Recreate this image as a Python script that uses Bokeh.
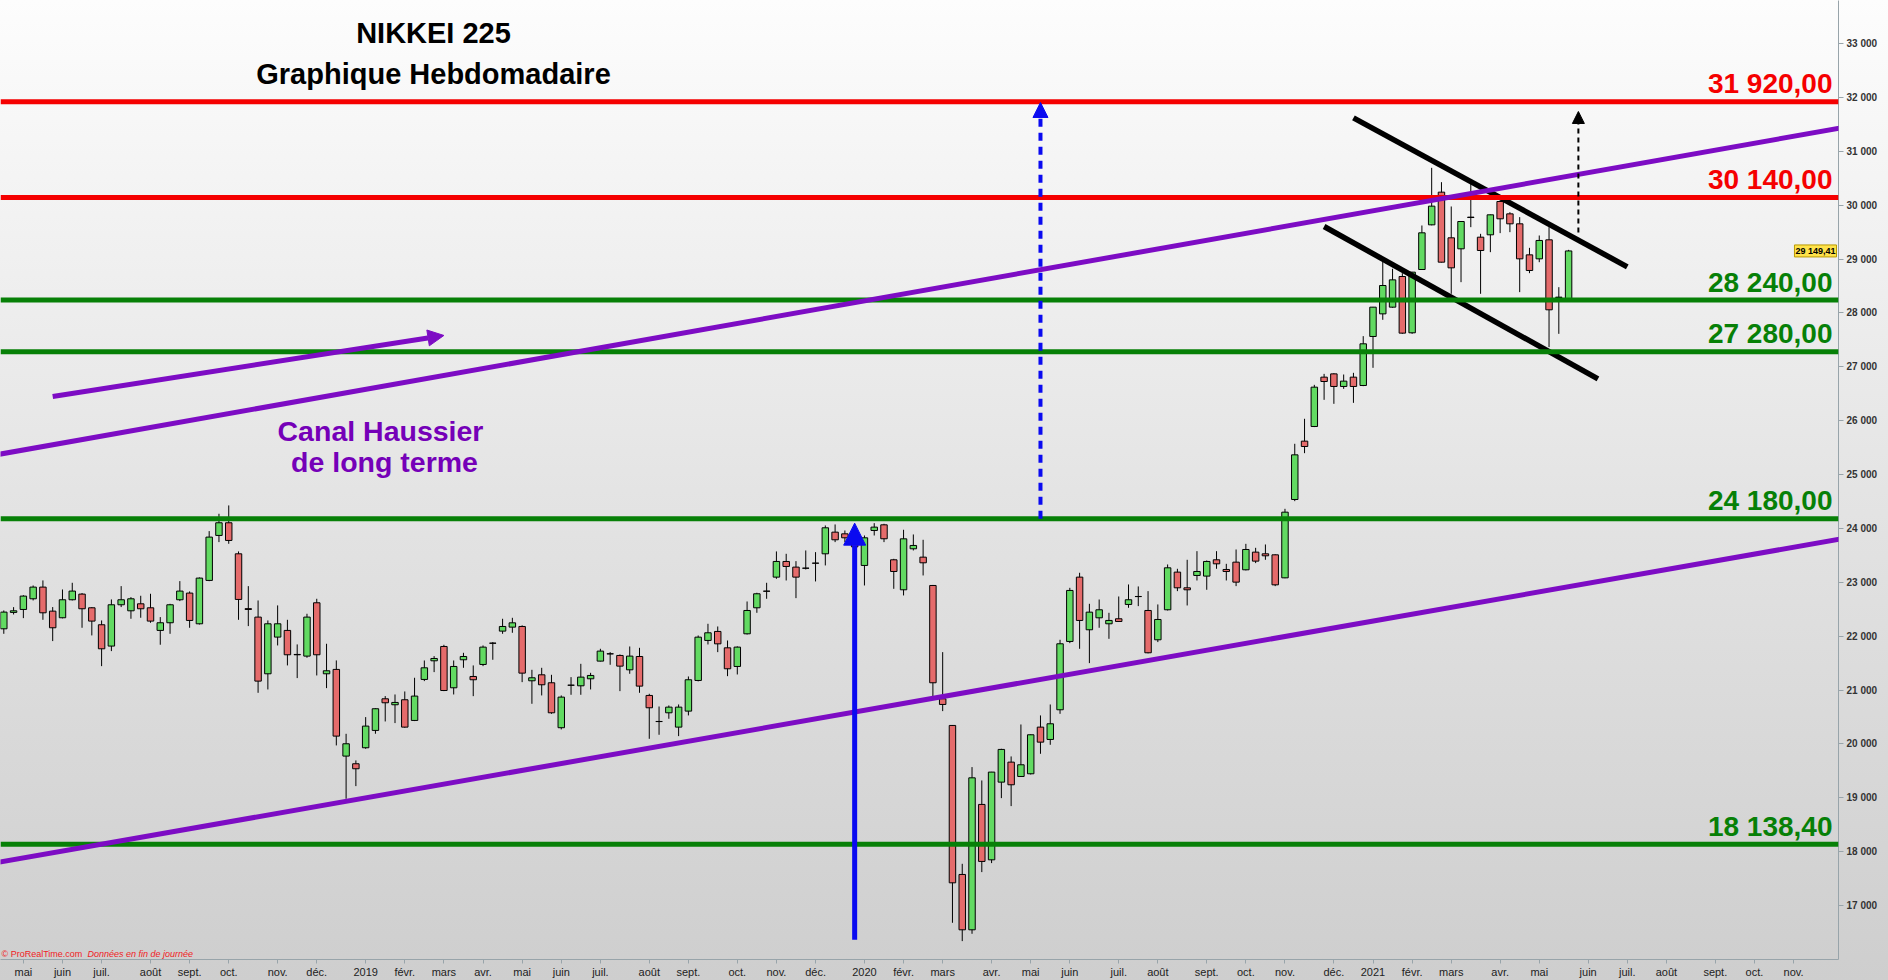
import pandas as pd
from bokeh.plotting import figure
from bokeh.models import (Range1d, FixedTicker, Span, Slope, Label, Arrow,
                          NormalHead, ColumnDataSource)
from bokeh.embed import file_html
from bokeh.resources import INLINE

# ---------------- data (weekly OHLC, NIKKEI 225) ----------------
opens = [22136, 22440, 22495, 22693, 22910, 22464, 22341, 22675, 22780, 22526,
         22211, 21815, 22582, 22470, 22600, 22526, 22106, 22248, 22675, 22799,
         22229, 23034, 23869, 24104, 23528, 22510, 22353, 21301, 21982, 22106,
         21660, 21629, 22619, 21301, 21382, 19773, 19631, 19928, 20250, 20837,
         20726, 20819, 20435, 21196, 21542, 21808, 21041, 21561, 21251, 21474,
         21870, 22093, 22167, 22179, 21171, 21282, 21134, 20300, 21090, 21078,
         21208, 21536, 21672, 21641, 21375, 21622, 20899, 20416, 20577, 20311,
         20608, 21177, 21920, 22087, 21783, 21437, 22043, 22526, 22835, 23095,
         23386, 23281, 23262, 23355, 23528, 23930, 23899, 23770, 23312, 23961,
         24066, 23417, 22860, 23621, 23466, 22940, 20837, 20342, 17576, 16549,
         18876, 17848, 19290, 19661, 19395, 19445, 20311, 20082, 20633, 21901,
         23095, 22118, 22340, 22229, 22322, 22588, 22736, 22476, 21932, 22489,
         23188, 22897, 23126, 23114, 23417, 23237, 23373, 23231, 23559, 23528,
         23509, 23082, 24536, 25619, 25891, 26807, 26868, 26634, 26807, 26652,
         27562, 27982, 28106, 28675, 27630, 28805, 29634, 30241, 29393, 29189,
         29777, 29405, 29449, 30067, 29838, 29653, 29077, 29003, 29356, 28292,
         28230]
highs = [22477, 22538, 22760, 22940, 23034, 22539, 22866, 22990, 22800, 22539,
         22291, 22681, 22928, 22724, 22749, 22786, 22353, 22600, 23021, 22830,
         23090, 23949, 24271, 24426, 23572, 22928, 22662, 22291, 22570, 22303,
         21846, 22415, 22693, 21858, 21549, 20187, 19693, 20497, 20660, 20887,
         20917, 20973, 21227, 21548, 21629, 21839, 21548, 21690, 21456, 21827,
         21889, 22322, 22340, 22200, 21375, 21412, 21282, 20899, 21239, 21486,
         21319, 21765, 21703, 21660, 21808, 21783, 20930, 20694, 20713, 20732,
         21251, 22012, 22229, 22179, 21919, 21810, 22643, 22805, 22990, 23572,
         23528, 23392, 23590, 23559, 24054, 24073, 23961, 23800, 23868, 24097,
         24085, 23435, 23974, 23887, 23788, 22950, 21703, 20350, 17774, 19569,
         19321, 19480, 19909, 19767, 20360, 20175, 20528, 20731, 21932, 22897,
         23176, 22600, 22680, 22433, 22736, 22959, 22922, 22835, 22588, 23330,
         23250, 23417, 23577, 23404, 23577, 23342, 23608, 23713, 23639, 23701,
         23520, 24363, 25570, 26034, 26664, 26868, 26880, 26856, 26887, 27568,
         28110, 28954, 28818, 28737, 28760, 29622, 30692, 30426, 29975, 29700,
         30426, 29467, 29825, 30070, 29869, 29777, 29207, 29436, 29591, 28477,
         29170]
lows = [22043, 22402, 22334, 22662, 22303, 21908, 22330, 22662, 22155, 22013,
        21443, 21722, 22539, 22322, 22341, 22248, 21840, 22043, 22650, 22155,
        22215, 23020, 23745, 23714, 22303, 22186, 20948, 21010, 21827, 21456,
        21221, 21598, 21270, 21035, 19971, 18981, 19216, 19909, 20188, 20416,
        20386, 20299, 20423, 21165, 21332, 20979, 20917, 21412, 20886, 21443,
        21561, 22043, 22062, 21146, 20744, 20899, 20558, 20268, 20911, 20911,
        21010, 21530, 21468, 20979, 21301, 20948, 20094, 20169, 20466, 20144,
        20528, 21160, 21845, 21703, 21257, 21288, 22030, 22433, 22693, 23064,
        23033, 22705, 23237, 23015, 23312, 23745, 23745, 23640, 22940, 23868,
        23745, 22878, 22755, 23590, 23126, 20868, 20608, 16679, 16339, 16475,
        17620, 17787, 18993, 18845, 19390, 19432, 19816, 19983, 20558, 21870,
        21765, 21499, 22155, 21950, 22272, 22526, 22557, 21680, 21889, 22476,
        22835, 22569, 23033, 22860, 23250, 23033, 22928, 23220, 23355, 23417,
        22928, 23075, 24505, 25396, 25880, 26386, 26312, 26590, 26330, 26640,
        26980, 27871, 28094, 27611, 27611, 28800, 29625, 28935, 28354, 28570,
        29591, 28354, 29127, 29480, 29498, 28385, 28737, 28941, 27364, 27611,
        28225]
closes = [22446, 22470, 22743, 22910, 22433, 22155, 22675, 22836, 22508, 22279,
          21765, 22582, 22675, 22693, 22508, 22279, 22248, 22582, 22836, 22291,
          23077, 23838, 24104, 23776, 22681, 22495, 21165, 22229, 22229, 21654,
          21654, 22353, 21654, 21357, 20144, 20002, 19538, 20330, 20652, 20763,
          20769, 20311, 20887, 21412, 21585, 20991, 21437, 21622, 21190, 21796,
          21868, 22179, 22247, 21313, 21227, 21097, 20577, 20868, 21088, 21239,
          21270, 21722, 21670, 21443, 21629, 21072, 20670, 20414, 20682, 20682,
          21190, 21981, 22062, 21857, 21394, 21796, 22476, 22786, 22833, 23386,
          23293, 23095, 23260, 23353, 24011, 23788, 23825, 23657, 23825, 24023,
          23807, 23200, 23806, 23683, 23361, 21134, 20732, 17421, 16549, 19370,
          17818, 19476, 19897, 19241, 19612, 20169, 20032, 20373, 21858, 22848,
          22291, 22445, 22489, 22291, 22272, 22675, 22734, 21691, 22309, 23268,
          22897, 22860, 23200, 23386, 23342, 23200, 23002, 23608, 23392, 23491,
          22952, 24301, 25365, 25520, 26621, 26726, 26634, 26733, 26634, 27426,
          28106, 28508, 28613, 27624, 28756, 29486, 29981, 28941, 28836, 29696,
          29770, 29158, 29820, 29746, 29653, 29003, 28787, 29344, 28057, 28285,
          29149.41]

# weekly bars start on these Mondays (no trading during Golden Week 2019)
weeks = pd.date_range("2018-04-23", "2021-05-24", freq="W-MON")
weeks = weeks[weeks != pd.Timestamp("2019-04-29")]

month_names = ["", "févr.", "mars", "avr.", "mai", "juin", "juil.", "août",
               "sept.", "oct.", "nov.", "déc."]
axis_start_month = "2018-05-01"
axis_end_month = "2021-11-01"

level_values = [31920.0, 30140.0, 28240.0, 27280.0, 24180.0, 18138.4]
level_texts = ["31 920,00", "30 140,00", "28 240,00", "27 280,00", "24 180,00", "18 138,40"]
level_kinds = ["res", "res", "sup", "sup", "sup", "sup"]

price_ticks = list(range(17000, 33001, 1000))

# trend lines: (date, price) anchors
upper_channel = [("2018-04-23", 25391), ("2021-05-24", 30538)]
lower_channel = [("2018-04-23", 17819), ("2021-05-24", 22917)]
flag_upper = [("2020-12-21", 31619), ("2021-07-05", 28855)]
flag_lower = [("2020-11-30", 29603), ("2021-06-14", 26776)]

# arrows: (date_start, price_start, date_end, price_end)
arrow_blue_solid = ("2019-12-30", 16363, "2019-12-30", 24097)
arrow_blue_dash = ("2020-05-11", 24180, "2020-05-11", 31905)
arrow_black_dash = ("2021-05-31", 29492, "2021-05-31", 31738)
arrow_purple = ("2018-05-28", 26449, "2019-03-04", 27581)

# ---------------- helpers ----------------
def bar_pos(d):
    d = pd.Timestamp(d)
    if d <= weeks[-1]:
        return int(weeks.searchsorted(d))
    return int(len(weeks) - 1 + (d - weeks[-1]).days // 7)

def fr_num(v, dec=2):
    s = f"{v:,.{dec}f}"
    return s.replace(",", " ").replace(".", ",")

RED = "#f50000"
GREEN = "#078007"
PURPLE = "#7d0cc4"
PURPLE_TXT = "#7500b8"
BLUE = "#0a0af0"
UP = "#62da62"
DOWN = "#e56b6b"
FONT = "Liberation Sans"
MID = 0.35   # baseline offset below a 'middle' anchor, in em

FW, FH = 1838, 959
ppb = 9.78                      # pixels per weekly bar
upp = 16000 / 862               # price units per pixel
X0 = -3.3 / ppb
X1 = X0 + FW / ppb
Y1 = 33000 + 43 * upp
Y0 = Y1 - FH * upp

def px_x(px):   # pixel -> bar position
    return X0 + px / ppb

def px_y(py):   # pixel -> price
    return Y1 - py * upp

# ---------------- figure ----------------
p = figure(frame_width=FW, frame_height=FH, x_range=Range1d(X0, X1),
           y_range=Range1d(Y0, Y1), y_axis_location="right",
           toolbar_location=None, output_backend="svg",
           min_border_left=0, min_border_top=0, min_border_right=50,
           min_border_bottom=21)
p.background_fill_color = None
p.border_fill_color = None
p.outline_line_color = None
p.styles = {"background-image": "linear-gradient(to bottom, #fdfdfd 0%, #e4e4e4 50%, #cecece 100%)"}
p.grid.visible = False

# candles
idx = list(range(len(closes)))
src = ColumnDataSource(dict(
    x=idx, o=opens, h=highs, l=lows, c=closes,
    top=[max(a, b) for a, b in zip(opens, closes)],
    bot=[min(a, b) for a, b in zip(opens, closes)],
    col=[UP if c >= o else DOWN for o, c in zip(opens, closes)],
))
p.segment(x0="x", y0="l", x1="x", y1="h", source=src, line_color="black", line_width=1)
p.vbar(x="x", width=0.66, top="top", bottom="bot", source=src,
       fill_color="col", line_color="black", line_width=1)

# horizontal levels
for v, kind in zip(level_values, level_kinds):
    p.add_layout(Span(location=v, dimension="width",
                      line_color=RED if kind == "res" else GREEN, line_width=5))

# long-term channel
for (d1, v1), (d2, v2) in (upper_channel, lower_channel):
    x1, x2 = bar_pos(d1), bar_pos(d2)
    g = (v2 - v1) / (x2 - x1)
    p.add_layout(Slope(gradient=g, y_intercept=v1 - g * x1,
                       line_color=PURPLE, line_width=5))

# flag lines
for (d1, v1), (d2, v2) in (flag_upper, flag_lower):
    p.line([bar_pos(d1), bar_pos(d2)], [v1, v2], line_color="black",
           line_width=5.5)

# arrows
def add_arrow(a, color, width, size, dash="solid"):
    d1, v1, d2, v2 = a
    p.add_layout(Arrow(end=NormalHead(size=size, fill_color=color, line_color=color),
                       x_start=bar_pos(d1), y_start=v1,
                       x_end=bar_pos(d2), y_end=v2,
                       line_color=color, line_width=width, line_dash=dash))

add_arrow(arrow_blue_solid, BLUE, 5, 22)
add_arrow(arrow_blue_dash, BLUE, 4, 15, "8 6")
add_arrow(arrow_black_dash, "black", 2, 12, "5 4")
add_arrow(arrow_purple, PURPLE, 5, 16)

# level labels (baseline ~8px above each line)
for v, t, kind in zip(level_values, level_texts, level_kinds):
    p.add_layout(Label(x=X1, y=v, text=t, x_offset=-6, y_offset=8 + MID * 28,
                       text_align="right", text_baseline="middle",
                       text_font=FONT, text_font_size="28px",
                       text_font_style="bold",
                       text_color=RED if kind == "res" else GREEN))

# titles and notes (py = wanted baseline in pixels)
def add_text(px, py, txt, size, color, style="bold", align="center"):
    p.add_layout(Label(x=px_x(px), y=px_y(py - MID * size), text=txt,
                       text_align=align, text_baseline="middle",
                       text_font=FONT, text_font_size=f"{size}px",
                       text_font_style=style, text_color=color))

add_text(433, 43, "NIKKEI 225", 29, "black")
add_text(433, 84, "Graphique Hebdomadaire", 29, "black")
add_text(380, 440, "Canal Haussier", 28.5, PURPLE_TXT)
add_text(384, 471, "de long terme", 28.5, PURPLE_TXT)
add_text(1, 957, "© ProRealTime.com", 9, "#f01c24", style="normal", align="left")
add_text(87, 957, "Données en fin de journée", 9, "#f01c24", style="italic", align="left")

# last price tag
p.add_layout(Label(x=X1, y=closes[-1], x_offset=-2, text=fr_num(closes[-1]),
                   text_align="right", text_baseline="middle",
                   text_font=FONT, text_font_size="9px", text_font_style="bold",
                   text_color="black", background_fill_color="#ffe24a",
                   border_line_color="#b89a00", padding=1))

# y axis
yax = p.yaxis[0]
yax.ticker = FixedTicker(ticks=price_ticks)
yax.major_label_overrides = {v: fr_num(v, 0) for v in price_ticks}
yax.major_label_text_font = FONT
yax.major_label_text_font_size = "10px"
yax.major_label_text_font_style = "bold"
yax.major_label_text_color = "#333333"
yax.axis_line_color = "#98a4aa"
yax.major_tick_line_color = "#98a4aa"
yax.major_tick_out = 5
yax.major_tick_in = 0
yax.minor_tick_line_color = None
yax.major_label_standoff = 3

# x axis (French months)
mticks, mlabels = [], {}
for m in pd.date_range(axis_start_month, axis_end_month, freq="MS"):
    first_monday = m + pd.Timedelta(days=(7 - m.weekday()) % 7)
    pos = bar_pos(first_monday)
    mticks.append(pos)
    mlabels[pos] = str(m.year) if m.month == 1 else month_names[m.month - 1]
xax = p.xaxis[0]
xax.ticker = FixedTicker(ticks=mticks)
xax.major_label_overrides = mlabels
xax.major_label_text_font = FONT
xax.major_label_text_font_size = "11px"
xax.major_label_text_color = "#222222"
xax.axis_line_color = "#98a4aa"
xax.major_tick_line_color = "#98a4aa"
xax.major_tick_out = 4
xax.major_tick_in = 0
xax.minor_tick_line_color = None
xax.major_label_standoff = 2

open("out.html", "w").write(file_html(p, INLINE))
